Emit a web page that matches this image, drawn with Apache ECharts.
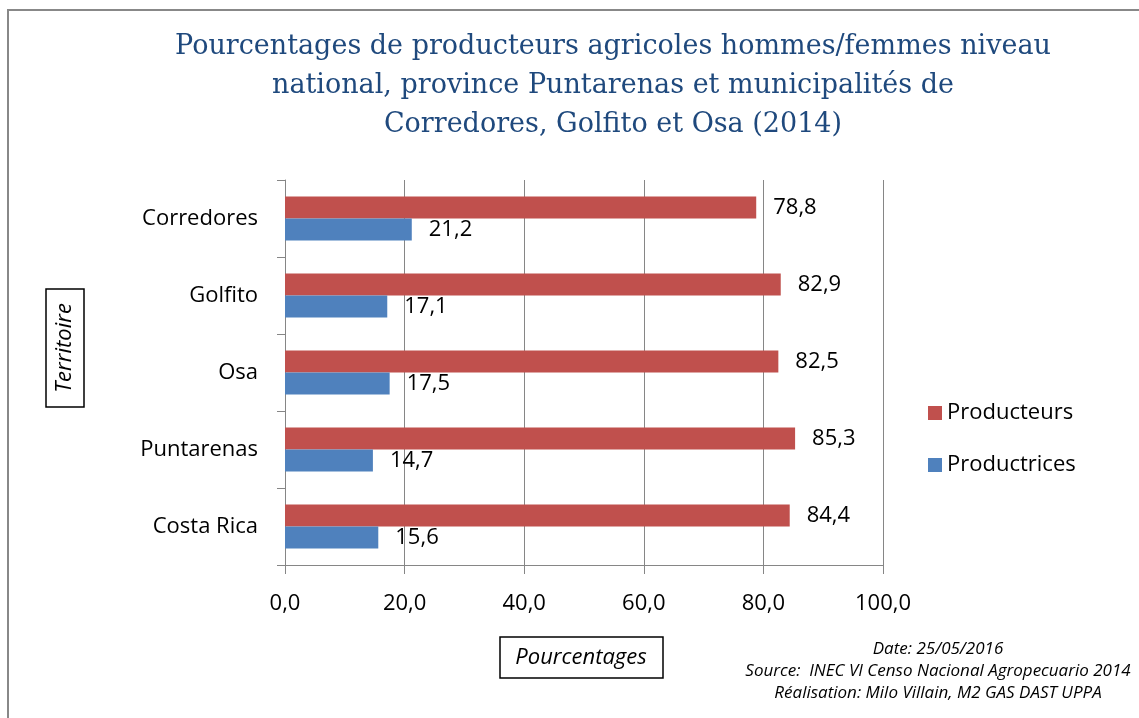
<!DOCTYPE html>
<html>
<head>
<meta charset="utf-8">
<script src="https://cdn.jsdelivr.net/npm/echarts@6/dist/echarts.min.js"></script>
<style>
  html, body { margin: 0; padding: 0; background: #fff; }
  #chart { width: 1139px; height: 718px; }
</style>
</head>
<body>
<div id="chart"></div>
<script>
// territoires, du bas vers le haut (axe catégoriel ECharts)
var territoires = ['Costa Rica', 'Puntarenas', 'Osa', 'Golfito', 'Corredores'];
var producteurs = [84.4, 85.3, 82.5, 82.9, 78.8];
var productrices = [15.6, 14.7, 17.5, 17.1, 21.2];
var xTicks = [0, 20, 40, 60, 80, 100];

var bodyFont = '"Open Sans", Lato, sans-serif';
var fmt = function (v) { return v.toFixed(1).replace('.', ','); };

var myChart = echarts.init(document.getElementById('chart'));
myChart.setOption({
  animation: false,
  backgroundColor: '#fff',
  textStyle: { fontFamily: bodyFont },
  grid: {
    left: 285,
    right: 256,
    top: 180,
    bottom: 153
  },
  legend: {
    data: ['Producteurs', 'Productrices'],
    orient: 'vertical',
    left: 923,
    top: 397,
    itemWidth: 14,
    itemHeight: 14,
    itemGap: 30,
    icon: 'rect',
    textStyle: { fontSize: 22, color: '#000', fontFamily: bodyFont }
  },
  xAxis: {
    type: 'value',
    min: xTicks[0],
    max: xTicks[xTicks.length - 1],
    interval: 20,
    axisLine: { show: true, lineStyle: { color: '#868686', width: 1 } },
    axisTick: { show: true, length: 9, lineStyle: { color: '#868686' } },
    splitLine: { show: true, lineStyle: { color: '#868686', width: 1 } },
    axisLabel: {
      margin: 28,
      fontSize: 22,
      color: '#000',
      formatter: function (v) { return fmt(v); }
    }
  },
  yAxis: {
    type: 'category',
    data: territoires,
    axisLine: { show: true, lineStyle: { color: '#868686', width: 1 } },
    axisTick: { show: true, length: 8, lineStyle: { color: '#868686' } },
    axisLabel: { margin: 27, fontSize: 22, color: '#000' }
  },
  series: [
    {
      name: 'Producteurs',
      type: 'bar',
      data: producteurs,
      barGap: '0%',
      barCategoryGap: '43%',
      itemStyle: { color: '#C0504D' },
      label: {
        show: true,
        position: 'right',
        distance: 17,
        fontSize: 22,
        color: '#000',
        formatter: function (p) { return fmt(p.value); }
      }
    },
    {
      name: 'Productrices',
      type: 'bar',
      data: productrices,
      barGap: '0%',
      barCategoryGap: '43%',
      itemStyle: { color: '#4F81BD' },
      label: {
        show: true,
        position: 'right',
        distance: 17,
        fontSize: 22,
        color: '#000',
        formatter: function (p) { return fmt(p.value); }
      }
    }
  ],
  graphic: [
    // cadre extérieur
    {
      type: 'rect',
      shape: { x: 8, y: 10, width: 1150, height: 730 },
      style: { fill: 'none', stroke: '#888', lineWidth: 2 },
      silent: true
    },
    // titre
    {
      type: 'text',
      style: {
        x: 613,
        y: 27,
        text: 'Pourcentages de producteurs agricoles hommes/femmes niveau\nnational, province Puntarenas et municipalités de\nCorredores, Golfito et Osa (2014)',
        textAlign: 'center',
        fontFamily: '"DejaVu Serif", serif',
        fontSize: 27,
        lineHeight: 39,
        fill: '#1F497D'
      }
    },
    // titre axe vertical
    {
      type: 'group',
      x: 65,
      y: 348,
      rotation: Math.PI / 2,
      children: [
        {
          type: 'rect',
          shape: { x: -59, y: -19, width: 118, height: 38 },
          style: { fill: '#fff', stroke: '#000', lineWidth: 1.5 }
        },
        {
          type: 'text',
          style: {
            x: 0, y: 0,
            text: 'Territoire',
            textAlign: 'center',
            textVerticalAlign: 'middle',
            fontFamily: bodyFont,
            fontStyle: 'italic',
            fontSize: 22,
            fill: '#000'
          }
        }
      ]
    },
    // titre axe horizontal
    {
      type: 'rect',
      shape: { x: 500, y: 637, width: 163, height: 41 },
      style: { fill: '#fff', stroke: '#000', lineWidth: 1.5 }
    },
    {
      type: 'text',
      style: {
        x: 581, y: 658,
        text: 'Pourcentages',
        textAlign: 'center',
        textVerticalAlign: 'middle',
        fontFamily: bodyFont,
        fontStyle: 'italic',
        fontSize: 22,
        fill: '#000'
      }
    },
    // source
    {
      type: 'text',
      style: {
        x: 938, y: 638,
        text: 'Date: 25/05/2016\nSource:  INEC VI Censo Nacional Agropecuario 2014\nRéalisation: Milo Villain, M2 GAS DAST UPPA',
        textAlign: 'center',
        fontFamily: bodyFont,
        fontStyle: 'italic',
        fontSize: 17,
        lineHeight: 22,
        fill: '#000'
      }
    }
  ]
});
</script>
</body>
</html>
